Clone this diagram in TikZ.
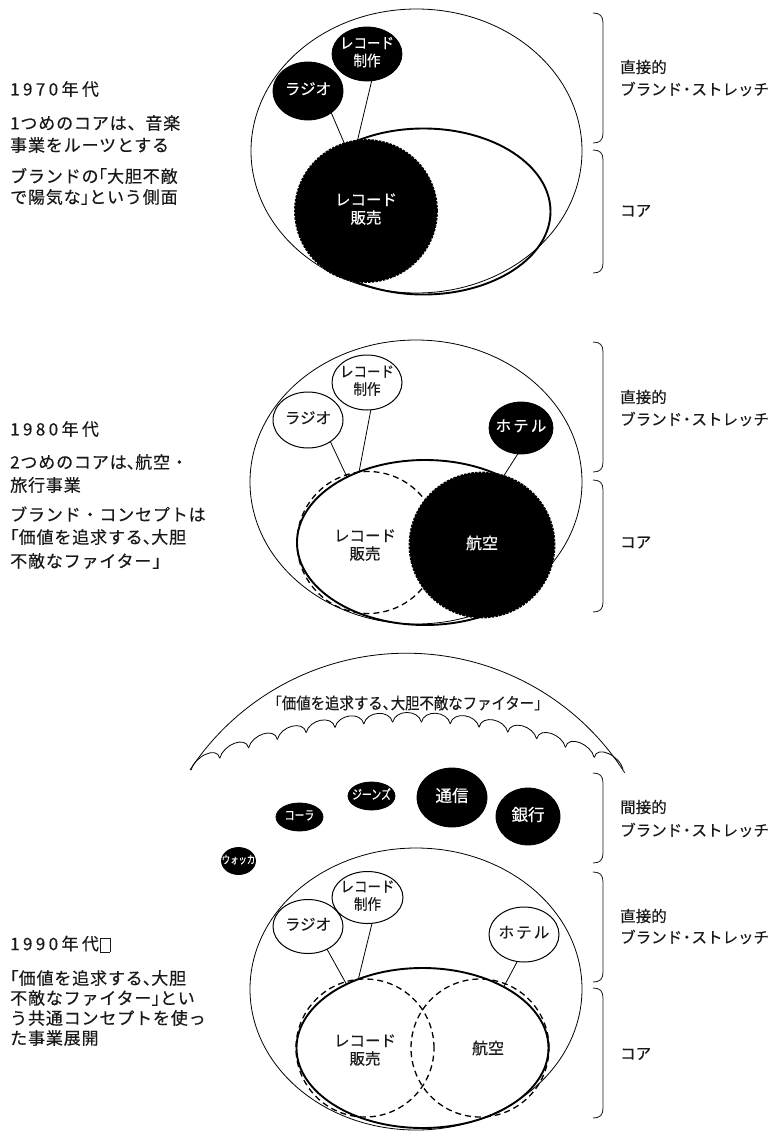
\documentclass[tikz,border=0pt]{standalone}
\usepackage{fontspec}
\usetikzlibrary{shapes.geometric}
\setmainfont{Noto Sans CJK JP}
\newfontfamily\jp[FakeBold=0.35]{Noto Sans CJK JP}
\newfontfamily\jpls[LetterSpace=5,FakeBold=0.35]{Noto Sans CJK JP}
\newfontfamily\jpwide[LetterSpace=20,FakeBold=0.35]{Noto Sans CJK JP}
\newfontfamily\jpsp[LetterSpace=14,FakeBold=0.35]{Noto Sans CJK JP}
\newfontfamily\jpcond[FakeStretch=0.9,FakeBold=0.35]{Noto Sans CJK JP}
\newfontfamily\jpnarrow[FakeStretch=0.76,FakeBold=0.35]{Noto Sans CJK JP}
\definecolor{ink}{gray}{0.1}
\newcommand\ctext[1]{\makebox[0pt]{\begin{tabular}{@{}c@{}}#1\end{tabular}}}
\newcommand\lk[1]{\makebox[0.5em][r]{#1}}
\newcommand\rk[1]{\makebox[0.5em][l]{#1}}
\newcommand\nd{\makebox[0.6em][c]{・}}
\newcommand\bracketpath[2]{\draw[bracket] (593,#1) .. controls (600,#1) and (603,#1+3) .. (603,#1+10) -- (603,#2-10) .. controls (603,#2-3) and (600,#2) .. (593,#2);}
\begin{document}
\begin{tikzpicture}[x=1pt,y=-1pt,
  lefttxt/.style={anchor=west,inner sep=0,text=ink,font=\jpls\fontsize{17}{20}\selectfont},
  yeartxt/.style={anchor=west,inner sep=0,text=ink,font=\jpwide\fontsize{17}{20}\selectfont},
  righttxt/.style={anchor=west,inner sep=0,text=ink,font=\jp\fontsize{15.5}{18}\selectfont},
  outerell/.style={ellipse,draw=black,line width=0.8pt,inner sep=0,outer sep=0},
  coreell/.style={ellipse,draw=black,line width=1.9pt,inner sep=0,outer sep=0},
  wbub/.style={ellipse,draw=black,line width=1pt,fill=white,inner sep=0,outer sep=0,text=ink},
  bbub/.style={ellipse,draw=black,fill=black,line width=0.8pt,inner sep=0,outer sep=0,text=white},
  roughdisc/.style={circle,fill=black,draw=black,line width=1.8pt,dash pattern=on 2.5pt off 1.2pt,inner sep=0,outer sep=0,text=white},
  dashcirc/.style={circle,draw=black,line width=1.3pt,dash pattern=on 6pt off 4pt,inner sep=0,outer sep=0},
  conn/.style={line width=0.8pt,draw=black},
  bracket/.style={line width=0.8pt,draw=ink},
  bubfont/.style={font=\jp\fontsize{15.5}{17}\selectfont},
  recfont/.style={font=\jpcond\fontsize{15}{17}\selectfont},
  spfont/.style={font=\jpsp\fontsize{15.5}{17}\selectfont},
  smallfont/.style={font=\jpnarrow\fontsize{13}{15}\selectfont}
]
\useasboundingbox (0,0) rectangle (780,1135);
\fill[white] (0,0) rectangle (780,1135);

% ================= Panel 1 (1970s) =================
\node[yeartxt] (t1y) at (10,89) {1970年代};
\node[lefttxt] (t1a) at (10,123) {1つめのコアは、音楽};
\node[lefttxt] (t1b) at (10,145) {事業をルーツとする};
\node[lefttxt] (t1c) at (10,176) {ブランドの\lk{「}大胆不敵};
\node[lefttxt] (t1d) at (10,197) {で陽気な\rk{」}という側面};

\node[outerell,minimum width=331,minimum height=284] (o1) at (416.5,151) {};
\node[coreell,minimum width=254,minimum height=166] (c1) at (423.5,211.5) {};
\node[bbub,bubfont,minimum width=70,minimum height=58] (r1) at (308,91) {\ctext{ラジオ}};
\node[bbub,recfont,minimum width=70,minimum height=54] (p1) at (367,54) {\raisebox{-4pt}{\ctext{レコード\\制作}}};
\draw[conn] (r1.317) -- (c1.140);
\draw[conn] (p1.280) -- (c1.133);
\node[roughdisc,bubfont,minimum size=142] (s1) at (366,211) {\ctext{レコード\\販売}};

\bracketpath{13}{143}
\bracketpath{150}{273}
\node[righttxt] (l1a) at (620,67) {直接的};
\node[righttxt] (l1b) at (620,89) {ブランド\nd ストレッチ};
\node[righttxt] (l1c) at (620,211) {コア};

% ================= Panel 2 (1980s) =================
\node[yeartxt] (t2y) at (10,429) {1980年代};
\node[lefttxt] (t2a) at (10,462) {2つめのコアは\rk{、}航空・};
\node[lefttxt] (t2b) at (10,485) {旅行事業};
\node[lefttxt] (t2c) at (10,514) {ブランド・コンセプトは};
\node[lefttxt] (t2d) at (10,537) {\lk{「}価値を追求する\rk{、}大胆};
\node[lefttxt] (t2e) at (10,561) {不敵なファイター」};

\node[outerell,minimum width=332,minimum height=284] (o2) at (416,482) {};
\node[coreell,minimum width=256,minimum height=165] (c2) at (425,542.5) {};
\node[wbub,bubfont,minimum width=70,minimum height=56] (r2) at (308,420) {\ctext{ラジオ}};
\node[wbub,recfont,minimum width=70,minimum height=55] (p2) at (367,382.5) {\raisebox{-4pt}{\ctext{レコード\\制作}}};
\draw[conn] (r2.316) -- (c2.140);
\draw[conn] (p2.278) -- (c2.133);
\node[dashcirc,minimum size=142] (d2) at (368,542.5) {};
\node[bbub,spfont,minimum width=64,minimum height=52] (h2) at (521,428) {\ctext{ホテル}};
\draw[conn] (h2.263) -- (c2.40);
\node[roughdisc,font=\jp\fontsize{16}{18}\selectfont,minimum size=145] (s2) at (482,545) {\ctext{航空}};
\node[font=\jp\fontsize{15.5}{17}\selectfont,text=ink,inner sep=0] (s2t) at (365,547) {\ctext{レコード\\販売}};

\bracketpath{342}{472}
\bracketpath{480}{612}
\node[righttxt] (l2a) at (620,397) {直接的};
\node[righttxt] (l2b) at (620,419) {ブランド\nd ストレッチ};
\node[righttxt] (l2c) at (620,542.5) {コア};

% ================= Panel 3 (1990s) =================
\coordinate (domeL) at (190,770);
\draw[line width=0.8pt] (domeL) arc[start angle=-146.7,end angle=-32.6,radius=259];
\foreach \i in {0,...,14} {
  \pgfmathsetmacro\xa{191+\i*28.8}
  \pgfmathsetmacro\xb{191+(\i+1)*28.8}
  \pgfmathsetmacro\ya{722+0.00102*(\xa-408)*(\xa-408)}
  \pgfmathsetmacro\yb{722+0.00102*(\xb-408)*(\xb-408)}
  \draw[line width=0.8pt] (\xa,\ya) .. controls (\xa+3,\ya-13) and (\xb-3,\yb-13) .. (\xb,\yb);
}
\node[inner sep=0,text=ink,font=\jpcond\fontsize{16}{18}\selectfont] (dtxt) at (408,703) {\lk{「}価値を追求する\rk{、}大胆不敵なファイター\rk{」}};

\node[bbub,smallfont,minimum width=47,minimum height=28] (jeans) at (371.5,796) {\ctext{ジーンズ}};
\node[bbub,smallfont,minimum width=47,minimum height=28] (cola) at (299.5,817) {\ctext{コーラ}};
\node[bbub,font=\jpnarrow\fontsize{11}{13}\selectfont,minimum width=34,minimum height=27] (vodka) at (238.5,861) {\ctext{ウォッカ}};
\node[bbub,font=\jp\fontsize{16.5}{18}\selectfont,minimum width=70,minimum height=59] (tsu) at (452,797.5) {\ctext{通信}};
\node[bbub,font=\jp\fontsize{16.5}{18}\selectfont,minimum width=64,minimum height=57] (bank) at (528,816.5) {\ctext{銀行}};

\node[yeartxt] (t3y) at (10,944) {1990年代\kern1pt{\fboxsep=0pt\fboxrule=0.7pt\raisebox{-1.5pt}{\fbox{\rule{0pt}{13pt}\hspace{9pt}}}}};
\node[lefttxt] (t3a) at (10,978) {\lk{「}価値を追求する\rk{、}大胆};
\node[lefttxt] (t3b) at (10,998) {不敵なファイター\rk{」}とい};
\node[lefttxt] (t3c) at (10,1018) {う共通コンセプトを使っ};
\node[lefttxt] (t3d) at (10,1038) {た事業展開};

\node[outerell,minimum width=332,minimum height=282] (o3) at (416,989) {};
\node[coreell,minimum width=252,minimum height=160] (c3) at (422.5,1048) {};
\node[wbub,bubfont,minimum width=70,minimum height=54] (r3) at (308,926.5) {\ctext{ラジオ}};
\node[wbub,recfont,minimum width=71,minimum height=52] (p3) at (367.5,897.5) {\raisebox{-4pt}{\ctext{レコード\\制作}}};
\node[wbub,spfont,minimum width=70,minimum height=55] (h3) at (524,934.5) {\ctext{ホテル}};
\draw[conn] (r3.310) -- (c3.140.6);
\draw[conn] (p3.280) -- (c3.133.5);
\draw[conn] (h3.256) -- (c3.37.8);
\node[dashcirc,minimum size=138] (d3a) at (365,1048) {};
\node[dashcirc,minimum size=138] (d3b) at (480,1048) {};
\node[inner sep=0,text=ink,font=\jp\fontsize{15.5}{17}\selectfont] (d3at) at (365,1052) {\ctext{レコード\\販売}};
\node[inner sep=0,text=ink,font=\jp\fontsize{16}{18}\selectfont] (d3bt) at (488,1050) {\ctext{航空}};

\bracketpath{773}{863}
\bracketpath{872}{982}
\bracketpath{988}{1118}
\node[righttxt] (l3a) at (620,807) {間接的};
\node[righttxt] (l3b) at (620,830) {ブランド\nd ストレッチ};
\node[righttxt] (l3c) at (620,916) {直接的};
\node[righttxt] (l3d) at (620,937) {ブランド\nd ストレッチ};
\node[righttxt] (l3e) at (620,1054) {コア};
\end{tikzpicture}
\end{document}
